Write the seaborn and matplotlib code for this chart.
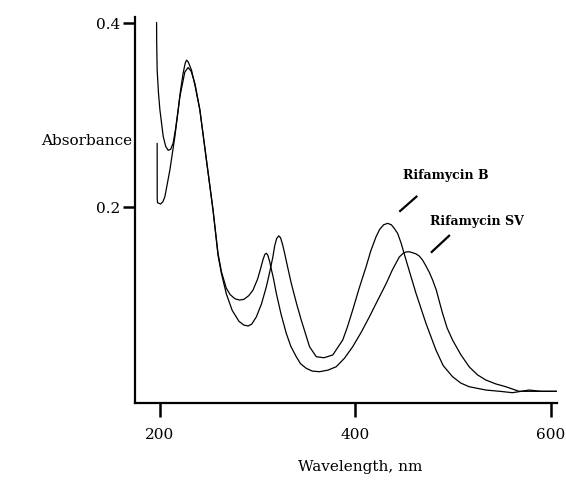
import pandas as pd
import seaborn as sns
import matplotlib
matplotlib.use("Agg")
import matplotlib.pyplot as plt

# UV-vis spectra
sv_wl = [196.6, 196.7, 197.2, 198.5, 200, 203.4, 206, 208.5, 211, 213.6, 216, 218.7, 221, 223.8,
         226, 227.3, 229, 232.4, 236, 240.9, 247.7, 254.4, 259.5, 263, 268, 272, 277, 281.7, 286,
         291, 295.3, 300, 303, 305.5, 307.5, 309, 310.5, 312.4, 314, 316, 319.2, 324, 329.4, 334,
         339.6, 344, 349.8, 356, 363.4, 372, 380.5, 389, 397.4, 406, 414.5, 423, 431.6, 438, 445.1,
         449, 452, 455.4, 459, 462, 465.6, 468.9, 472, 476, 479.2, 483, 486, 489.4, 494, 499.6, 508,
         516.6, 525, 533.7, 544, 554.1, 567.7, 580, 590, 606]
sv_abs = [0.401, 0.38, 0.349, 0.325, 0.306, 0.277, 0.266, 0.262, 0.263, 0.270, 0.285, 0.306, 0.326,
          0.346, 0.357, 0.360, 0.358, 0.349, 0.332, 0.306, 0.251, 0.197, 0.150, 0.130, 0.112, 0.105,
          0.1005, 0.0992, 0.100, 0.104, 0.110, 0.122, 0.133, 0.143, 0.149, 0.150, 0.148, 0.141,
          0.133, 0.124, 0.1065, 0.084, 0.063, 0.049, 0.0376, 0.030, 0.025, 0.022, 0.0213, 0.023,
          0.0267, 0.036, 0.0485, 0.064, 0.081, 0.099, 0.117, 0.132, 0.146, 0.150, 0.1515, 0.1517,
          0.1505, 0.1495, 0.147, 0.1427, 0.137, 0.129, 0.121, 0.110, 0.098, 0.0848, 0.069, 0.0558,
          0.040, 0.0267, 0.018, 0.0123, 0.008, 0.005, 0.000, 0.0, 0.0, 0.0]

b_wl = [197.2, 197.25, 197.6, 200.7, 203, 205.1, 210.2, 215.3, 220.4, 225.5, 228.9, 232, 236, 240.9,
        247.7, 254.4, 259.5, 263, 268, 274, 281, 286, 290.2, 294, 298.8, 304, 309, 312.5, 315.7,
        317.5, 319.5, 321.6, 323.5, 325.5, 327.7, 331, 334.5, 340, 344.7, 353.2, 360.1, 368, 377,
        387.2, 392, 397.4, 404, 411.1, 416, 421.3, 425, 429, 433.2, 437, 440, 443.4, 447, 452,
        462.2, 472.4, 482.6, 490, 499.6, 508, 516.6, 533.7, 548, 560.9, 570, 577.9, 590, 606]
b_abs = [0.2696, 0.2098, 0.205, 0.2036, 0.206, 0.2115, 0.2405, 0.2767, 0.320, 0.347, 0.352, 0.348,
         0.334, 0.306, 0.251, 0.197, 0.148, 0.128, 0.106, 0.088, 0.076, 0.072, 0.071, 0.073, 0.081,
         0.095, 0.1137, 0.130, 0.1463, 0.158, 0.166, 0.169, 0.167, 0.160, 0.150, 0.134, 0.1174,
         0.095, 0.0775, 0.0485, 0.0376, 0.0365, 0.0395, 0.0558, 0.070, 0.0884, 0.112, 0.1354,
         0.153, 0.168, 0.176, 0.181, 0.1826, 0.181, 0.177, 0.1717, 0.161, 0.1427, 0.1065, 0.0739,
         0.0449, 0.028, 0.0159, 0.009, 0.005, 0.0014, 0.000, -0.0015, 0.0, 0.0014, 0.0, 0.0]

x_ticks = [200, 400, 600]
y_ticks = [0.2, 0.4]
y_tick_labels = ["0.2", "0.4"]

sv = pd.DataFrame({"wl": sv_wl, "absorbance": sv_abs})
rb = pd.DataFrame({"wl": b_wl, "absorbance": b_abs})

sns.set_style("ticks")
plt.rcParams["font.family"] = ["DejaVu Serif"]
for key in ["text.color", "axes.labelcolor", "xtick.color", "ytick.color", "axes.edgecolor"]:
    plt.rcParams[key] = "black"

fig = plt.figure(figsize=(5.66, 4.8), dpi=100)
ax = fig.add_axes([0.2385, 0.161, 0.7455, 0.8036])

sns.lineplot(data=sv, x="wl", y="absorbance", sort=False, estimator=None,
             color="black", lw=0.9, ax=ax)
sns.lineplot(data=rb, x="wl", y="absorbance", sort=False, estimator=None,
             color="black", lw=0.9, ax=ax)

ax.set_xlim(174.5, 606.5)
ax.set_ylim(-0.0124, 0.4069)
ax.set_xticks(x_ticks)
ax.set_xticklabels([str(t) for t in x_ticks])
ax.set_yticks(y_ticks)
ax.set_yticklabels(y_tick_labels)
ax.set_xlabel("")
ax.set_ylabel("")
sns.despine(ax=ax)
for s in ["left", "bottom"]:
    ax.spines[s].set_linewidth(1.6)
ax.tick_params(axis="x", length=10, width=1.8, pad=8, labelsize=11)
ax.tick_params(axis="y", length=9, width=1.8, pad=1.5, labelsize=11)

# curve labels with short leader strokes
ax.text(492.9, 0.235, "Rifamycin B", ha="center", va="center", fontsize=9, fontweight="bold")
ax.plot([463.5, 445.1], [0.2124, 0.1952], color="black", lw=1.6, solid_capstyle="butt")
ax.text(524.3, 0.1843, "Rifamycin SV", ha="center", va="center", fontsize=9, fontweight="bold")
ax.plot([496.9, 477.5], [0.1699, 0.1507], color="black", lw=1.6, solid_capstyle="butt")

fig.text(132 / 566, 1 - 141 / 480, "Absorbance", ha="right", va="center", fontsize=11)
fig.text(360 / 566, 1 - 467 / 480, "Wavelength, nm", ha="center", va="center", fontsize=11)

fig.savefig("out.png", dpi=100)
